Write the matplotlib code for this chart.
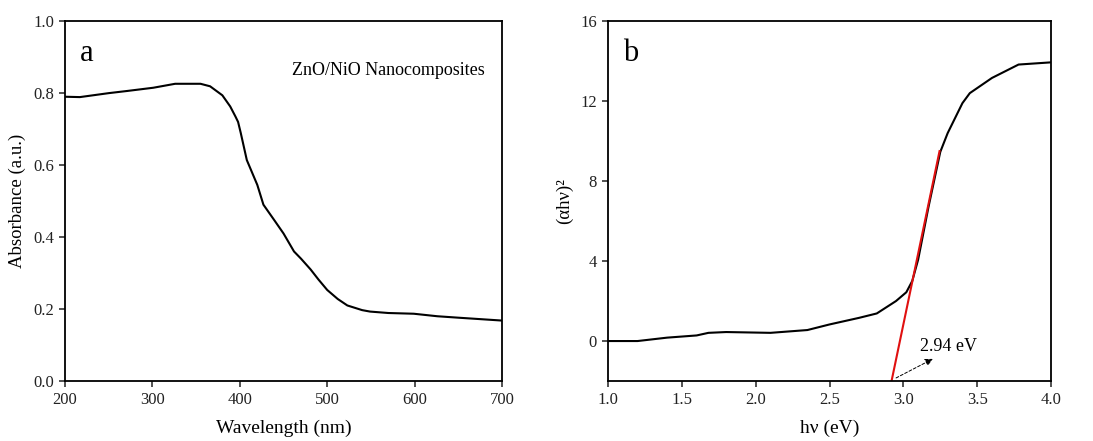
import numpy as np
from matplotlib import pyplot as plt

plt.rcParams["font.family"] = ["Liberation Serif", "DejaVu Serif"]

# panel a: UV-vis absorbance
wavelength = [200, 217, 250, 271, 301, 326, 355, 366, 380, 389, 395, 398, 401,
              408, 420, 427, 440, 450, 462, 470, 481, 490, 500, 512, 523, 540,
              549, 570, 599, 626, 650, 700]
absorbance = [0.790, 0.789, 0.800, 0.806, 0.815, 0.826, 0.826, 0.819, 0.794,
              0.763, 0.735, 0.720, 0.690, 0.614, 0.545, 0.490, 0.445, 0.410,
              0.360, 0.340, 0.310, 0.282, 0.253, 0.228, 0.210, 0.197, 0.193,
              0.189, 0.187, 0.180, 0.176, 0.168]

# panel b: Tauc plot
energy = [1.0, 1.2, 1.4, 1.6, 1.68, 1.8, 2.1, 2.35, 2.5, 2.7, 2.82, 2.95, 3.02,
          3.06, 3.1, 3.17, 3.25, 3.3, 3.4, 3.45, 3.6, 3.78, 4.0]
tauc = [0.0, 0.0, 0.17, 0.28, 0.41, 0.45, 0.41, 0.55, 0.83, 1.16, 1.38, 2.0,
        2.44, 3.0, 4.07, 6.7, 9.46, 10.4, 11.9, 12.4, 13.16, 13.83, 13.94]
fit_x = [2.92, 3.245]
fit_y = [-2.0, 9.5]
band_gap = "2.94 eV"

fig = plt.figure(figsize=(10.93, 4.41), dpi=100)
ax1 = fig.add_axes([0.0595, 0.136, 0.3998, 0.816])
ax2 = fig.add_axes([0.5563, 0.136, 0.4053, 0.816])

for ax in (ax1, ax2):
    ax.tick_params(direction="out", length=4, width=1.1, labelsize=12,
                   colors="#222222", pad=4)
    for s in ax.spines.values():
        s.set_linewidth(1.3)

ax1.plot(wavelength, absorbance, color="black", lw=1.5)
ax1.set_xlim(200, 700)
ax1.set_ylim(0, 1.0)
ax1.set_xticks(np.arange(200, 701, 100))
ax1.set_yticks(np.arange(0, 1.01, 0.2))
ax1.set_yticklabels([f"{v:.1f}" for v in np.arange(0, 1.01, 0.2)])
ax1.set_xlabel("Wavelength (nm)", fontsize=14, labelpad=8)
ax1.set_ylabel("Absorbance (a.u.)", fontsize=13.5, labelpad=5)
ax1.text(0.033, 0.91, "a", transform=ax1.transAxes, fontsize=22, va="center")
ax1.text(0.96, 0.862, "ZnO/NiO Nanocomposites", transform=ax1.transAxes,
         fontsize=13, ha="right", va="center")

ax2.plot(energy, tauc, color="black", lw=1.5)
ax2.plot(fit_x, fit_y, color="#e01010", lw=1.5)
ax2.set_xlim(1.0, 4.0)
ax2.set_ylim(-2, 16)
ax2.set_xticks(np.arange(1.0, 4.01, 0.5))
ax2.set_xticklabels([f"{v:.1f}" for v in np.arange(1.0, 4.01, 0.5)])
ax2.set_yticks([0, 4, 8, 12, 16])
ax2.set_xlabel("hν (eV)", fontsize=14, labelpad=8)
ax2.set_ylabel("(αhν)²", fontsize=13.5, labelpad=5)
ax2.text(0.033, 0.91, "b", transform=ax2.transAxes, fontsize=22, va="center")
ax2.annotate("", xy=(3.216, -0.83), xytext=(2.934, -1.91),
             arrowprops=dict(arrowstyle="-|>", color="black", lw=0.7,
                             linestyle=(0, (3, 2)), mutation_scale=11))
ax2.text(3.114, -0.25, band_gap, fontsize=13, ha="left", va="center")

fig.savefig("out.png", dpi=100)
plt.close(fig)
